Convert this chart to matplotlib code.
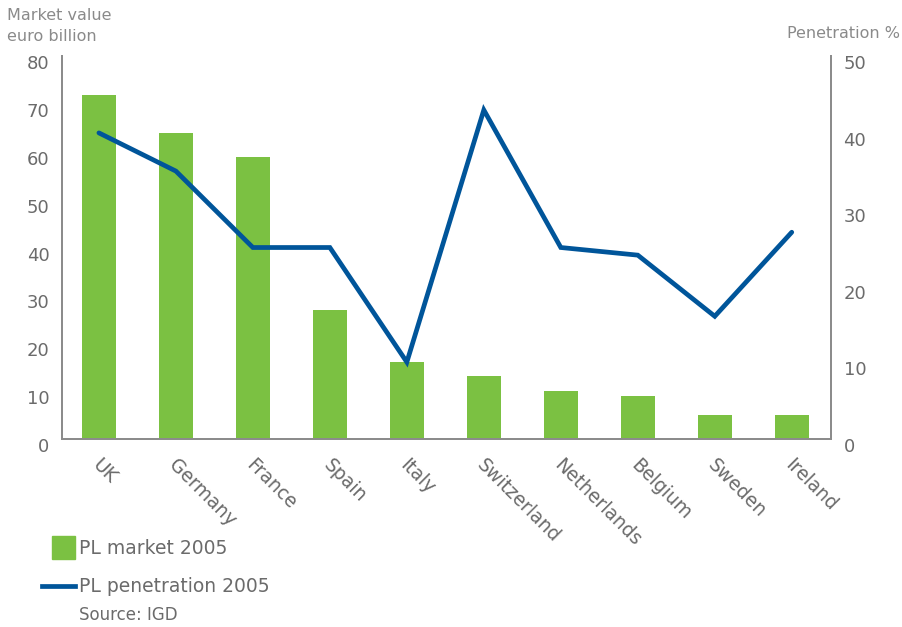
import matplotlib.pyplot as plt
import matplotlib.transforms as mtransforms
from matplotlib.legend_handler import HandlerPatch
from matplotlib.lines import Line2D
from matplotlib.patches import Rectangle
import numpy as np

# PL market size and penetration, 2005
countries = ["UK", "Germany", "France", "Spain", "Italy",
             "Switzerland", "Netherlands", "Belgium", "Sweden", "Ireland"]
market_value = [72, 64, 59, 27, 16, 13, 10, 9, 5, 5]          # euro billion
penetration = [40, 35, 25, 25, 10, 43, 25, 24, 16, 27]        # %
left_ticks = [0, 10, 20, 30, 40, 50, 60, 70, 80]
right_ticks = [0, 10, 20, 30, 40, 50]

GREEN = "#7bc142"
BLUE = "#00559a"
AXIS_GREY = "#8c8c8c"
TEXT_GREY = "#6b6b6b"
TITLE_GREY = "#8a8a8a"

plt.rcParams["font.family"] = ["DejaVu Sans"]

fig = plt.figure(figsize=(9.02, 6.27), dpi=100)
ax = fig.add_axes([0.0687, 0.3006, 0.8526, 0.6093])
ax2 = ax.twinx()

x = np.arange(len(countries))
ax.bar(x, market_value, width=0.44, color=GREEN, zorder=2)
ax2.plot(x, penetration, color=BLUE, linewidth=3.4, solid_joinstyle="miter",
         solid_capstyle="round", zorder=3)

ax.set_xlim(-0.48, len(countries) - 0.49)
ax.set_ylim(0, 80)
ax2.set_ylim(0, 50)
ax.set_yticks(left_ticks)
ax2.set_yticks(right_ticks)

for a in (ax, ax2):
    a.spines["top"].set_visible(False)
    for side in ("left", "right", "bottom"):
        a.spines[side].set_color(AXIS_GREY)
        a.spines[side].set_linewidth(1.4)
    a.tick_params(axis="y", length=0, labelsize=13, colors=TEXT_GREY, pad=9)

ax.set_xticks(x)
ax.set_xticklabels(countries, rotation=-45, rotation_mode="anchor",
                   ha="left", va="top", fontsize=13.5, color=TEXT_GREY)
ax.tick_params(axis="x", length=0, pad=12)

# value labels sit a little below their gridline positions,
# country names a touch to the right
shift = mtransforms.ScaledTranslation(0, -6 / 100, fig.dpi_scale_trans)
for a in (ax, ax2):
    for tick in a.yaxis.get_major_ticks():
        tick.label1.set_transform(tick.label1.get_transform() + shift)
        tick.label2.set_transform(tick.label2.get_transform() + shift)
xshift = mtransforms.ScaledTranslation(3 / 100, 0, fig.dpi_scale_trans)
for tick in ax.xaxis.get_major_ticks():
    tick.label1.set_transform(tick.label1.get_transform() + xshift)

fig.text(7 / 902, 1 - 26 / 627, "Market value\neuro billion", fontsize=11.5,
         color=TITLE_GREY, ha="left", va="center", linespacing=1.45)
fig.text(900 / 902, 1 - 33 / 627, "Penetration %", fontsize=11.5,
         color=TITLE_GREY, ha="right", va="center")


def square_handle(legend, orig_handle, xdescent, ydescent, width, height, fontsize):
    side = 16.6
    return Rectangle((width - xdescent - side, height / 2 - ydescent - side / 2),
                     side, side)


handles = [
    Rectangle((0, 0), 1, 1, color=GREEN),
    Line2D([], [], color=BLUE, linewidth=3.4),
]
fig.legend(handles, ["PL market 2005", "PL penetration 2005"],
           loc="upper left", bbox_to_anchor=(42 / 902, 1 - 539 / 627),
           frameon=False, fontsize=13.5, handlelength=1.76, handletextpad=0.22,
           labelspacing=1.02, labelcolor=TEXT_GREY, borderpad=0, borderaxespad=0,
           handler_map={Rectangle: HandlerPatch(patch_func=square_handle)})

fig.text(79 / 902, 1 - 615 / 627, "Source: IGD", fontsize=12,
         color=TEXT_GREY, ha="left", va="center")

fig.savefig("out.png", dpi=100)
